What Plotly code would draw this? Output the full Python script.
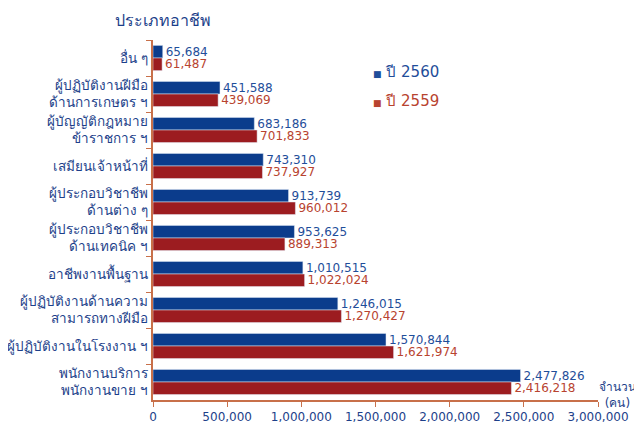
import plotly.graph_objects as go

# --- data ---
categories = [
    "อื่น ๆ",
    "ผู้ปฏิบัติงานฝีมือ<br>ด้านการเกษตร ฯ",
    "ผู้บัญญัติกฎหมาย<br>ข้าราชการ ฯ",
    "เสมียนเจ้าหน้าที่",
    "ผู้ประกอบวิชาชีพ<br>ด้านต่าง ๆ",
    "ผู้ประกอบวิชาชีพ<br>ด้านเทคนิค ฯ",
    "อาชีพงานพื้นฐาน",
    "ผู้ปฏิบัติงานด้านความ<br>สามารถทางฝีมือ",
    "ผู้ปฏิบัติงานในโรงงาน ฯ",
    "พนักงานบริการ<br>พนักงานขาย ฯ",
]
y2560 = [65684, 451588, 683186, 743310, 913739, 953625, 1010515, 1246015, 1570844, 2477826]
y2559 = [61487, 439069, 701833, 737927, 960012, 889313, 1022024, 1270427, 1621974, 2416218]
x_ticks = [0, 500000, 1000000, 1500000, 2000000, 2500000, 3000000]

BLUE = "#0b3c8c"
RED = "#9c1c20"
BLUE_TXT = "#1f4e9a"
RED_TXT = "#b8432f"
AXIS_COL = "#c8704a"
LABEL_COL = "#1d3f8a"
FONT = "DejaVu Sans"

fig = go.Figure()
fig.add_trace(go.Bar(
    y=categories, x=y2560, orientation="h", name="ปี 2560",
    marker_color=BLUE,
    text=[f"{v:,}" for v in y2560], textposition="outside", constraintext="none",
    textfont=dict(color=BLUE_TXT, size=12, family=FONT),
    cliponaxis=False,
))
fig.add_trace(go.Bar(
    y=categories, x=y2559, orientation="h", name="ปี 2559",
    marker_color=RED,
    text=[f"{v:,}" for v in y2559], textposition="outside", constraintext="none",
    textfont=dict(color=RED_TXT, size=12, family=FONT),
    cliponaxis=False,
))

# page body has an 8px margin, so the figure is sized 8px smaller
fig.update_layout(
    width=634, height=419,
    paper_bgcolor="white", plot_bgcolor="white",
    barmode="group", bargap=0.3, bargroupgap=0,
    showlegend=False,
    font=dict(family=FONT, color=LABEL_COL, size=12),
    margin=dict(l=145, r=44, t=32, b=27),
)
fig.update_yaxes(
    autorange="reversed", automargin=False,
    showline=True, linecolor=AXIS_COL, linewidth=2,
    ticks="outside", tickson="boundaries", ticklen=5, tickcolor=AXIS_COL,
    tickfont=dict(size=13.5, color=LABEL_COL),
    showgrid=False,
)
fig.update_xaxes(
    range=[0, 3000000], automargin=False,
    tickvals=x_ticks, ticktext=[f"{v:,}" for v in x_ticks],
    showline=True, linecolor=AXIS_COL, linewidth=2,
    ticks="outside", ticklen=5, tickcolor=AXIS_COL,
    tickfont=dict(size=12, color=LABEL_COL),
    showgrid=False, zeroline=False,
)

fig.add_annotation(text="ประเภทอาชีพ", xref="paper", yref="paper",
                   x=0, y=1.0, xshift=-40, yshift=20, xanchor="left", yanchor="middle",
                   showarrow=False, font=dict(size=16, color=LABEL_COL))
fig.add_annotation(text="จำนวน<br>(คน)", xref="paper", yref="paper",
                   x=1.0, y=0.0, xshift=40, yshift=-12, xanchor="right", yanchor="bottom",
                   showarrow=False, align="center", font=dict(size=12, color=LABEL_COL))
fig.add_annotation(text="<span style='font-size:9px'>■</span> ปี 2560", xref="paper", yref="paper",
                   x=0.49, y=0.92, xshift=0, yshift=-3, xanchor="left", yanchor="middle",
                   showarrow=False, font=dict(size=15, color=BLUE_TXT))
fig.add_annotation(text="<span style='font-size:9px'>■</span> ปี 2559", xref="paper", yref="paper",
                   x=0.49, y=0.84, xshift=0, yshift=-3, xanchor="left", yanchor="middle",
                   showarrow=False, font=dict(size=15, color=RED_TXT))

fig.write_html("out.html")
